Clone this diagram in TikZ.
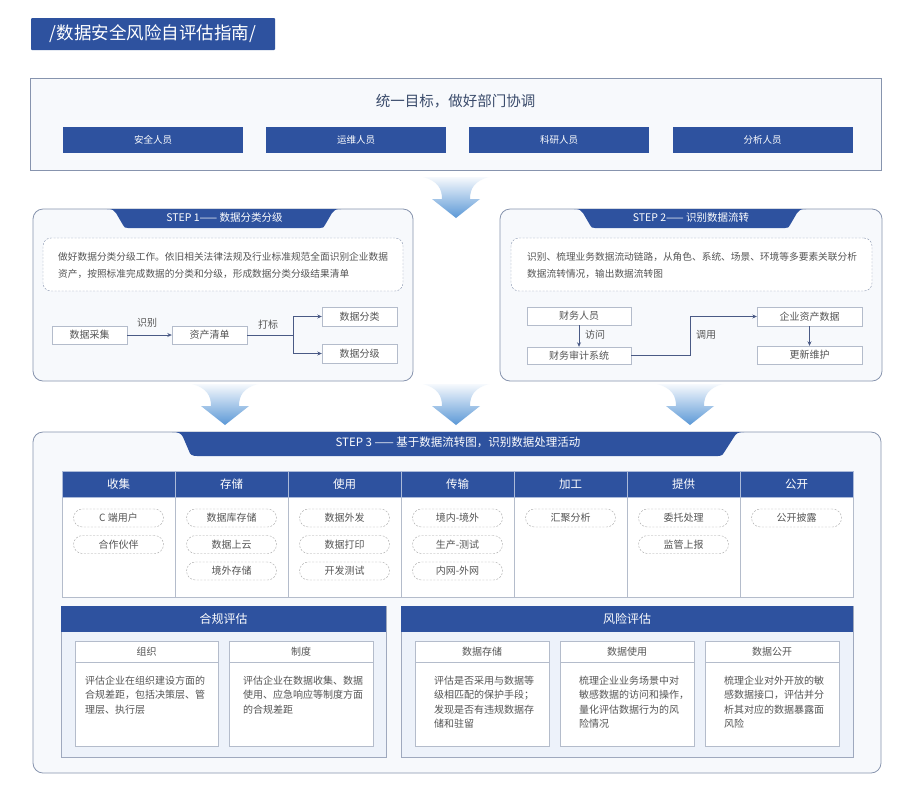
\documentclass[tikz,border=0pt]{standalone}
\usepackage{fontspec}
\setmainfont{Noto Sans CJK SC}
\usetikzlibrary{arrows.meta}
\definecolor{mblue}{HTML}{2E529F}
\definecolor{pfill}{HTML}{F7F9FC}
\definecolor{pborder}{HTML}{8794AE}
\definecolor{txt}{HTML}{555555}
\definecolor{hd}{HTML}{3A4B6B}
\definecolor{lgray}{HTML}{B4BCCB}
\definecolor{connc}{HTML}{4A5A85}
\definecolor{atop}{HTML}{F6F9FD}
\definecolor{abot}{HTML}{5B98D6}
\definecolor{efill}{HTML}{EDF2FA}
\newcommand\fs[2]{\fontsize{#1}{#2}\selectfont}
\begin{document}
\begin{tikzpicture}[x=1pt,y=-1pt,
  titlebox/.style={fill=mblue, text=white, inner sep=0, rounded corners=1pt},
  panel/.style={draw=pborder, fill=pfill, line width=0.8pt, inner sep=0, rounded corners=10pt},
  peoplebox/.style={fill=mblue, text=white, inner sep=0, minimum width=180, minimum height=26, font=\fs{9.5}{11}},
  dashbox/.style={draw=pborder, dash pattern=on 2pt off 1.5pt, fill=white, rounded corners=8pt, inner sep=0},
  flowbox/.style={draw=lgray, fill=white, text=txt, inner sep=0, font=\fs{10}{12}},
  conn/.style={draw=connc, line width=0.7pt, -{Stealth[length=4.5pt,width=4pt]}},
  plain/.style={draw=connc, line width=0.7pt},
  lbl/.style={text=txt, font=\fs{10}{12}, inner sep=0},
  tabtext/.style={text=white, inner sep=0},
  tabfill/.style={fill=mblue},
  hcell/.style={fill=mblue, text=white, draw=white!60!mblue, line width=0.6pt, minimum width=113, minimum height=26, inner sep=0, font=\fs{11.5}{13}},
  bcell/.style={fill=white, draw=lgray, line width=0.6pt, minimum width=113, minimum height=100, inner sep=0},
  pill/.style={draw=gray!70, dash pattern=on 2pt off 1.5pt, fill=white, rounded corners=9pt, minimum width=90, minimum height=18, inner sep=0, text=txt, font=\fs{10}{12}},
  evpanel/.style={fill=efill, draw=pborder!80, line width=0.7pt, inner sep=0},
  evhead/.style={fill=mblue, text=white, inner sep=0, font=\fs{12}{14}},
  subhead/.style={fill=white, draw=lgray, line width=0.6pt, text=txt, font=\fs{10}{12}, inner sep=0, minimum height=21},
  subbody/.style={fill=white, draw=lgray, line width=0.6pt, inner sep=0, minimum height=84},
  body/.style={text=txt, align=left, inner sep=0, anchor=north west, font=\fs{10}{14.5}},
  desc/.style={text=txt, align=left, inner sep=0, anchor=north west, font=\fs{9.7}{17}},
  bigarrow/.pic={\shade[top color=atop, bottom color=abot] (-33,0) .. controls (-18,4) and (-14,12) .. (-14,22) -- (-24,22) -- (0,41) -- (24,22) -- (14,22) .. controls (14,12) and (18,4) .. (33,0) -- cycle;}
]
\useasboundingbox (0,0) rectangle (909,801);
\fill[white] (0,0) rectangle (909,801);

% title
\node[titlebox, minimum width=244, minimum height=32, font=\fs{17.5}{20}] (title) at (153,34) {/数据安全风险自评估指南/};

% top box
\node[draw=pborder, fill=pfill, line width=0.8pt, minimum width=851, minimum height=92, inner sep=0] (top) at (455.5,124) {};
\node[text=hd, font=\fs{14.5}{16}, inner sep=0] (goal) at (455.5,101.5) {统一目标，做好部门协调};
\node[peoplebox] (pp1) at (153,140) {安全人员};
\node[peoplebox] (pp2) at (356,140) {运维人员};
\node[peoplebox] (pp3) at (559,140) {科研人员};
\node[peoplebox] (pp4) at (762.5,140) {分析人员};

% arrows
\pic at (456,177) {bigarrow};
\pic at (225,384) {bigarrow};
\pic at (456,384) {bigarrow};
\pic at (690,384) {bigarrow};

% STEP 1
\node[panel, minimum width=380, minimum height=172] (s1) at (223,295) {};
\fill[tabfill] (107,209) .. controls (112,209) and (114,210) .. (116,213) -- (123,225) .. controls (124,227.5) and (125,228) .. (128,228) -- (320,228) .. controls (323,228) and (324,227.5) .. (325,225) -- (332,213) .. controls (334,210) and (336,209) .. (341,209) -- cycle;
\node[tabtext, font=\fs{10.5}{12}] (t1) at (224.5,218) {STEP 1—— 数据分类分级};
\node[dashbox, minimum width=360, minimum height=53] (d1) at (223,264.5) {};
\node[desc] (d1t) at (58,252.2) {做好数据分类分级工作。依旧相关法律法规及行业标准规范全面识别企业数据\\资产，按照标准完成数据的分类和分级，形成数据分类分级结果清单};
\node[flowbox, minimum width=75, minimum height=18] (a1) at (89.5,335) {数据采集};
\node[flowbox, minimum width=75, minimum height=18] (a2) at (209.5,335) {资产清单};
\node[flowbox, minimum width=75, minimum height=19] (a3) at (359.5,316.5) {数据分类};
\node[flowbox, minimum width=75, minimum height=19] (a4) at (359.5,353.5) {数据分级};
\coordinate (j1) at (293,335);
\draw[conn] (a1) -- (a2);
\draw[plain] (a2.east) -- (j1);
\draw[conn] (j1) |- (a3.west);
\draw[conn] (j1) |- (a4.west);
\node[lbl] (l1) at (147,323) {识别};
\node[lbl] (l2) at (268,325) {打标};

% STEP 2
\node[panel, minimum width=382, minimum height=172] (s2) at (691,295) {};
\fill[tabfill] (574,209) .. controls (579,209) and (581,210) .. (583,213) -- (590,225) .. controls (591,227.5) and (592,228) .. (595,228) -- (785,228) .. controls (788,228) and (789,227.5) .. (790,225) -- (797,213) .. controls (799,210) and (801,209) .. (806,209) -- cycle;
\node[tabtext, font=\fs{10.5}{12}] (t2) at (691,218) {STEP 2—— 识别数据流转};
\node[dashbox, minimum width=361, minimum height=53] (d2) at (691.5,264.5) {};
\node[desc] (d2t) at (527,251.7) {识别、梳理业务数据流动链路，从角色、系统、场景、环境等多要素关联分析\\数据流转情况，输出数据流转图};
\node[flowbox, minimum width=104, minimum height=18] (b1) at (579,316) {财务人员};
\node[flowbox, minimum width=104, minimum height=17] (b2) at (579,355.5) {财务审计系统};
\node[flowbox, minimum width=105, minimum height=19] (b3) at (809.5,316.5) {企业资产数据};
\node[flowbox, minimum width=105, minimum height=18] (b4) at (809.5,355) {更新维护};
\coordinate (j2) at (690,355.5);
\draw[conn] (b1) -- (b2);
\draw[plain] (b2.east) -- (j2);
\draw[conn] (j2) |- (b3.west);
\draw[conn] (b3) -- (b4);
\node[lbl] (l3) at (595,335) {访问};
\node[lbl] (l4) at (706,335) {调用};

% STEP 3
\node[panel, minimum width=848, minimum height=341] (s3) at (457,602.5) {};
\fill[tabfill] (172,432) .. controls (178,432) and (181,433) .. (183,437) -- (189,451) .. controls (190,454.5) and (192,456) .. (197,456) -- (718,456) .. controls (722,456) and (724,454) .. (725,451) -- (734,437) .. controls (736,433.5) and (738,432) .. (744,432) -- cycle;
\node[tabtext, font=\fs{11.5}{13}] (t3) at (458,442) {STEP 3 —— 基于数据流转图，识别数据处理活动};

\foreach \i/\nm in {0/收集,1/存储,2/使用,3/传输,4/加工,5/提供,6/公开}{
  \node[bcell] (c\i) at ({118.5+113*\i},547) {};
  \node[hcell] (h\i) at ({118.5+113*\i},484) {\nm};
}
\foreach \i/\r/\t in {0/0/C 端用户,0/1/合作伙伴,
  1/0/数据库存储,1/1/数据上云,1/2/境外存储,
  2/0/数据外发,2/1/数据打印,2/2/开发测试,
  3/0/境内-境外,3/1/生产-测试,3/2/内网-外网,
  4/0/汇聚分析,
  5/0/委托处理,5/1/监管上报,
  6/0/公开披露}{
  \node[pill] (p\i\r) at ({118.5+113*\i},{518+26.5*\r}) {\t};
}

% compliance evaluation
\node[evpanel, minimum width=325, minimum height=151] (cp) at (223.5,681.5) {};
\node[evhead, minimum width=325, minimum height=26] (cph) at (223.5,619) {合规评估};
\node[subhead, minimum width=143] (ch1) at (146.5,651.5) {组织};
\node[subbody, minimum width=143] (cb1) at (146.5,704) {};
\node[subhead, minimum width=144] (ch2) at (301,651.5) {制度};
\node[subbody, minimum width=144] (cb2) at (301,704) {};
\node[body] (ct1) at (85,675.5) {评估企业在组织建设方面的\\合规差距，包括决策层、管\\理层、执行层};
\node[body] (ct2) at (243,675.5) {评估企业在数据收集、数据\\使用、应急响应等制度方面\\的合规差距};

% risk evaluation
\node[evpanel, minimum width=452, minimum height=151] (rp) at (627,681.5) {};
\node[evhead, minimum width=452, minimum height=26] (rph) at (627,619) {风险评估};
\node[subhead, minimum width=134] (rh1) at (482,651.5) {数据存储};
\node[subbody, minimum width=134] (rb1) at (482,704) {};
\node[subhead, minimum width=134] (rh2) at (627,651.5) {数据使用};
\node[subbody, minimum width=134] (rb2) at (627,704) {};
\node[subhead, minimum width=134] (rh3) at (772,651.5) {数据公开};
\node[subbody, minimum width=134] (rb3) at (772,704) {};
\node[body] (rt1) at (434,675.5) {评估是否采用与数据等\\级相匹配的保护手段；\\发现是否有违规数据存\\储和驻留};
\node[body] (rt2) at (579,675.5) {梳理企业业务场景中对\\敏感数据的访问和操作，\\量化评估数据行为的风\\险情况};
\node[body] (rt3) at (724,675.5) {梳理企业对外开放的敏\\感数据接口，评估并分\\析其对应的数据暴露面\\风险};
\end{tikzpicture}
\end{document}
